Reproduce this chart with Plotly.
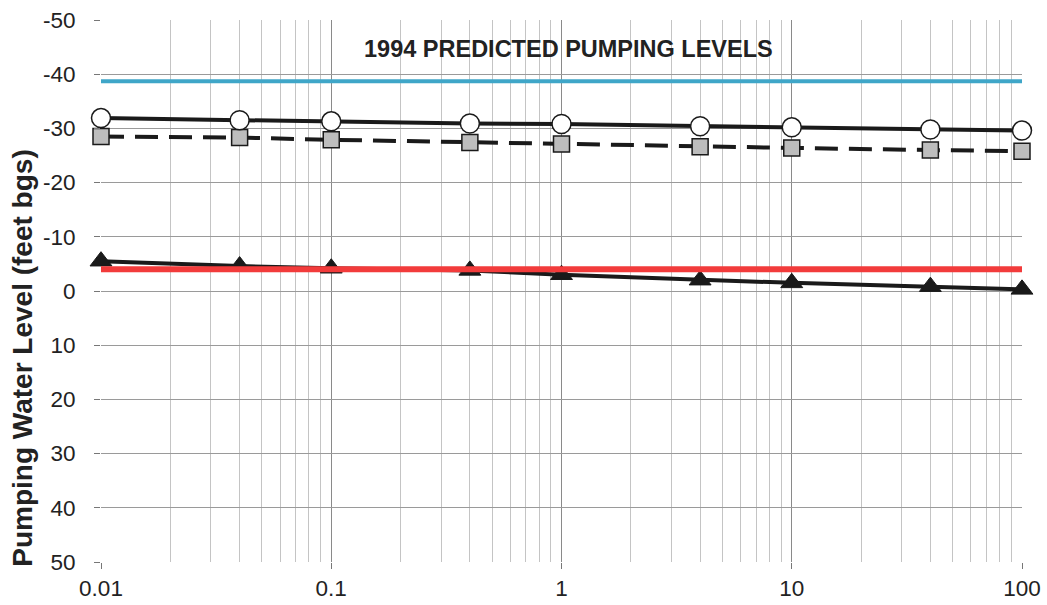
import plotly.graph_objects as go

time_days = [0.01, 0.04, 0.1, 0.4, 1, 4, 10, 40, 100]
circles = [-31.9, -31.5, -31.3, -30.9, -30.8, -30.4, -30.2, -29.8, -29.6]
squares = [-28.5, -28.3, -27.9, -27.4, -27.1, -26.6, -26.4, -26.0, -25.8]
triangles = [-5.5, -4.6, -4.2, -3.8, -3.0, -2.0, -1.5, -0.8, -0.3]
blue_x = [0.01, 100]
blue_y = [-38.7, -38.7]
red_x = [0.01, 100]
red_y = [-4.0, -4.0]

y_ticks = [-50, -40, -30, -20, -10, 0, 10, 20, 30, 40, 50]
y_labels = ["-50", "-40", "-30", "-20", "-10", "0", "10", "20", "30", "40", "50"]
x_ticks = [0.01, 0.1, 1, 10, 100]
x_labels = ["0.01", "0.1", "1", "10", "100"]

FONT = "Liberation Sans, Arial"

fig = go.Figure()
fig.add_trace(go.Scatter(x=blue_x, y=blue_y, mode="lines", cliponaxis=False,
                         line=dict(color="#3fa6c8", width=4), showlegend=False))
fig.add_trace(go.Scatter(x=time_days, y=triangles, mode="lines+markers", cliponaxis=False,
                         line=dict(color="#1a1a1a", width=4),
                         marker=dict(symbol="triangle-up", size=19, color="#1a1a1a",
                                     line=dict(color="#1a1a1a", width=1)),
                         showlegend=False))
fig.add_trace(go.Scatter(x=red_x, y=red_y, mode="lines", cliponaxis=False,
                         line=dict(color="#f23b3b", width=6), showlegend=False))
fig.add_trace(go.Scatter(x=time_days, y=squares, mode="lines+markers", cliponaxis=False,
                         line=dict(color="#1a1a1a", width=4, dash="23px,11px"),
                         marker=dict(symbol="square", size=16, color="#bdbdbd",
                                     line=dict(color="#1a1a1a", width=1.5)),
                         showlegend=False))
fig.add_trace(go.Scatter(x=time_days, y=circles, mode="lines+markers", cliponaxis=False,
                         line=dict(color="#1a1a1a", width=4),
                         marker=dict(symbol="circle", size=19, color="white",
                                     line=dict(color="#1a1a1a", width=1.5)),
                         showlegend=False))

fig.add_annotation(text="<b>1994 PREDICTED PUMPING LEVELS</b>", x=0.508, y=-44.6,
                   xref="paper", yref="y", showarrow=False,
                   font=dict(family=FONT, size=23.5, color="#222"))
fig.add_annotation(text="<b>Pumping Water Level (feet bgs)</b>", x=0, y=0.375,
                   xref="paper", yref="paper", xanchor="center", yanchor="middle",
                   xshift=-78, textangle=-90, showarrow=False,
                   font=dict(family=FONT, size=28, color="#222"))

fig.update_xaxes(type="log", range=[-2, 2], tickvals=x_ticks, ticktext=x_labels,
                 showgrid=True, gridcolor="#8a8a8a", gridwidth=1.2,
                 ticks="outside", ticklen=6, tickcolor="#777",
                 minor=dict(dtick="D1", showgrid=True, gridcolor="#c4c4c4", gridwidth=1),
                 zeroline=False, showline=False,
                 tickfont=dict(family=FONT, size=22.5, color="#222"))
fig.update_yaxes(range=[50, -50], tickvals=y_ticks, ticktext=y_labels,
                 showgrid=True, gridcolor="#9a9a9a", gridwidth=1.2,
                 ticks="outside", ticklen=6, tickcolor="#777", ticklabelstandoff=14,
                 zeroline=False, showline=False,
                 tickfont=dict(family=FONT, size=22.5, color="#222"))

fig.update_layout(width=1047, height=605,
                  margin=dict(l=101, r=25, t=20, b=43, autoexpand=False),
                  paper_bgcolor="white", plot_bgcolor="white")

fig.write_html("out.html", config={"displayModeBar": False},
               post_script="document.body.style.margin='0';")
